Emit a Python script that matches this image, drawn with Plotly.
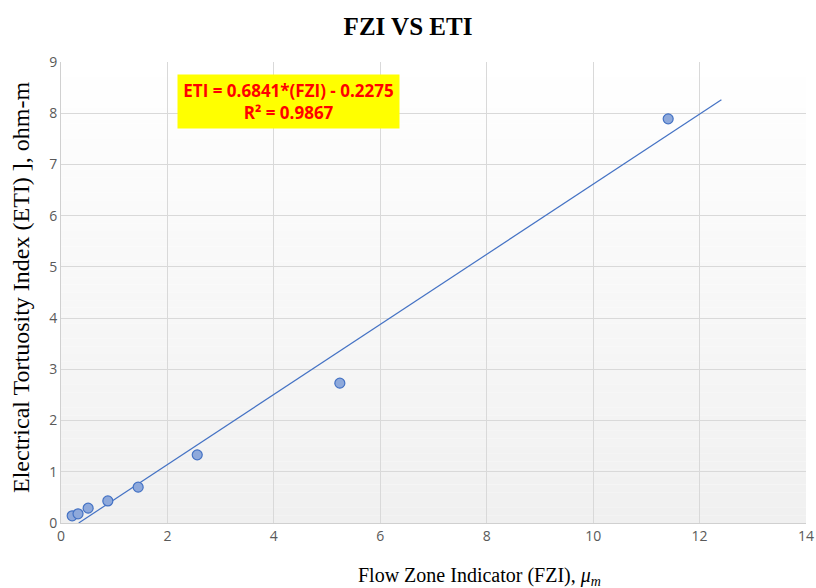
import numpy as np
import plotly.graph_objects as go

# Measured samples
fzi = [0.21, 0.32, 0.51, 0.88, 1.45, 2.56, 5.24, 11.41]
eti = [0.14, 0.18, 0.29, 0.43, 0.70, 1.33, 2.73, 7.89]

# Linear fit reported on the chart
slope = 0.6841
intercept = -0.2275
r2 = 0.9867
forecast_forward = 1.0

x_ticks = [0, 2, 4, 6, 8, 10, 12, 14]
y_ticks = [0, 1, 2, 3, 4, 5, 6, 7, 8, 9]

fig = go.Figure()

# Trendline, clipped at ETI = 0 and extended one unit forward
x_start = max(min(fzi), -intercept / slope)
x_end = max(fzi) + forecast_forward
tx = [x_start, x_end]
ty = [slope * v + intercept for v in tx]
fig.add_trace(go.Scatter(
    x=tx, y=ty, mode="lines",
    line=dict(color="#4472C4", width=1.2),
    hoverinfo="skip", showlegend=False,
))

fig.add_trace(go.Scatter(
    x=fzi, y=eti, mode="markers",
    marker=dict(size=10, color="#8EA9DB",
                line=dict(color="#4472C4", width=1.2)),
    showlegend=False,
))

# Vertical background gradient in the plotting area (white to light gray)
n_bands = 60
for i in range(n_bands):
    t = i / (n_bands - 1)
    g = int(round(255 - (255 - 240) * (1 - t)))
    fig.add_shape(
        type="rect", xref="x domain", yref="y domain",
        x0=0, x1=1, y0=i / n_bands, y1=(i + 1) / n_bands,
        fillcolor=f"rgb({g},{g},{g})", line=dict(width=0),
        layer="below",
    )

# Regression equation box
fig.add_annotation(
    xref="x", yref="y", x=4.28, y=8.23,
    text=f"ETI = {slope}*(FZI) - {abs(intercept)}<br>R² = {r2}",
    showarrow=False,
    font=dict(family="Open Sans", size=17, color="#FF0000", weight="bold"),
    bgcolor="#FFFF00", borderpad=0, width=221, height=53,
    align="center", valign="middle",
)

# Axis titles
fig.add_annotation(
    xref="paper", yref="paper", x=0.5624, y=-0.115,
    text="Flow Zone Indicator (FZI), <i>μ</i><sub><i>m</i></sub>",
    showarrow=False, xanchor="center", yanchor="middle",
    font=dict(family="Liberation Serif", size=20, color="black"),
)
fig.add_annotation(
    xref="paper", yref="paper", x=-0.0537, y=0.512,
    text="Electrical Tortuosity Index (ETI) ], ohm-m",
    showarrow=False, xanchor="center", yanchor="middle", textangle=-90,
    font=dict(family="Liberation Serif", size=24, color="black"),
)

fig.update_layout(
    width=816, height=588,
    margin=dict(l=61, r=10, t=62, b=65),
    paper_bgcolor="white",
    plot_bgcolor="white",
    title=dict(
        text="<b>FZI VS ETI</b>",
        x=0.5, xanchor="center", y=0.955, yanchor="middle",
        font=dict(family="Liberation Serif", size=25, color="black"),
    ),
    xaxis=dict(
        range=[0, 14], tickvals=x_ticks, automargin=False,
        showgrid=True, gridcolor="#D9D9D9", gridwidth=1,
        zeroline=False, showline=True, linecolor="#D0D0D0", linewidth=1,
        ticks="", tickfont=dict(family="Open Sans", size=14, color="#595959"),
    ),
    yaxis=dict(
        range=[0, 9], tickvals=y_ticks, automargin=False,
        showgrid=True, gridcolor="#D9D9D9", gridwidth=1,
        zeroline=False, showline=True, linecolor="#D0D0D0", linewidth=1,
        ticks="", tickfont=dict(family="Open Sans", size=14, color="#595959"),
    ),
)

fig.write_html("out.html")
